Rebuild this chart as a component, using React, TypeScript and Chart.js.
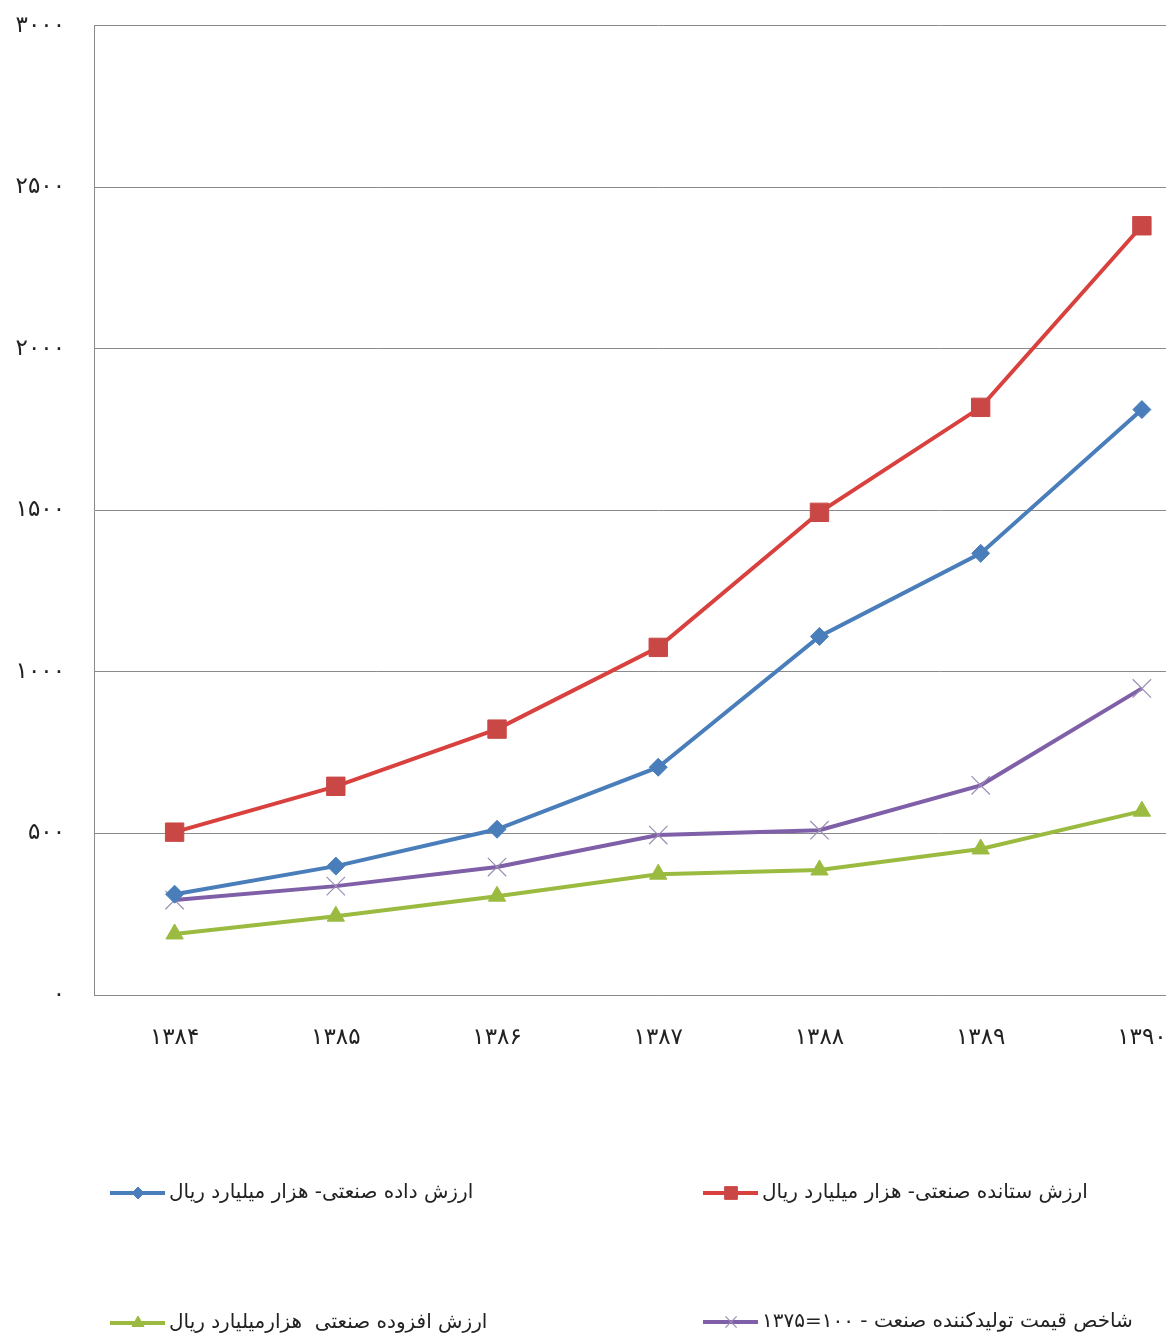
import React, { useEffect, useRef } from "react";
import { Chart, registerables } from "chart.js";
import { drawPoint } from "chart.js/helpers";

Chart.register(...registerables);

const categories = ["۱۳۸۴", "۱۳۸۵", "۱۳۸۶", "۱۳۸۷", "۱۳۸۸", "۱۳۸۹", "۱۳۹۰"];
const yTickLabels = ["۰", "۵۰۰", "۱۰۰۰", "۱۵۰۰", "۲۰۰۰", "۲۵۰۰", "۳۰۰۰"];

const inputValue = [312, 399, 513, 705, 1110, 1367, 1812];
const outputValue = [504, 646, 823, 1076, 1494, 1819, 2381];
const addedValue = [189, 244, 306, 374, 387, 452, 569];
const priceIndex = [294, 337, 396, 495, 510, 649, 949];

const labelInput = "ارزش داده صنعتی- هزار میلیارد ریال";
const labelOutput = "ارزش ستانده صنعتی- هزار میلیارد ریال";
const labelAdded = "ارزش افزوده صنعتی  هزارمیلیارد ریال";
const labelIndex = "شاخص قیمت تولیدکننده صنعت - ۱۰۰=۱۳۷۵";

const FONT = "'DejaVu Sans', sans-serif";
const SHIFT = 17;

const legendPlugin = {
  id: "customLegend",
  afterDraw(chart: any) {
    const ctx = chart.ctx;
    const slots = [
      { ds: 0, x: 110, y: 1193 + SHIFT, r: 6 },
      { ds: 1, x: 703, y: 1193 + SHIFT, r: 9 },
      { ds: 2, x: 110, y: 1323 + SHIFT, r: 7 },
      { ds: 3, x: 703, y: 1322 + SHIFT, r: 8 },
    ];
    ctx.save();
    slots.forEach((s) => {
      const d = chart.data.datasets[s.ds];
      ctx.strokeStyle = d.borderColor;
      ctx.lineWidth = 4;
      ctx.beginPath();
      ctx.moveTo(s.x, s.y);
      ctx.lineTo(s.x + 55, s.y);
      ctx.stroke();
      ctx.fillStyle = d.pointBackgroundColor;
      ctx.strokeStyle = d.pointBorderColor;
      ctx.lineWidth = d.pointBorderWidth;
      drawPoint(ctx, { pointStyle: d.pointStyle, radius: s.r, rotation: 0, borderWidth: d.pointBorderWidth }, s.x + 28, s.y);
      ctx.fillStyle = "#222";
      ctx.font = `20px ${FONT}`;
      ctx.textBaseline = "middle";
      ctx.textAlign = "left";
      (ctx as any).direction = "rtl";
      ctx.fillText(d.label, s.x + 59, s.y);
      (ctx as any).direction = "ltr";
    });
    ctx.restore();
  },
};

export default function App() {
  const ref = useRef<HTMLCanvasElement>(null);
  useEffect(() => {
    if (!ref.current) return;
    const chart = new Chart(ref.current, {
      type: "line",
      data: {
        labels: categories,
        datasets: [
          {
            label: labelInput,
            data: inputValue,
            borderColor: "#4A7EBB",
            pointBackgroundColor: "#4A7EBB",
            pointBorderColor: "#4A7EBB",
            pointBorderWidth: 1,
            pointStyle: "rectRot",
            pointRadius: 9,
            borderWidth: 4,
            tension: 0,
          },
          {
            label: labelOutput,
            data: outputValue,
            borderColor: "#D9413E",
            pointBackgroundColor: "#C94846",
            pointBorderColor: "#C94846",
            pointBorderWidth: 1,
            pointStyle: "rect",
            pointRadius: 13,
            borderWidth: 4,
            tension: 0,
          },
          {
            label: labelAdded,
            data: addedValue,
            borderColor: "#9BBB40",
            pointBackgroundColor: "#9BBB40",
            pointBorderColor: "#9BBB40",
            pointBorderWidth: 1,
            pointStyle: "triangle",
            pointRadius: 10,
            borderWidth: 4,
            tension: 0,
          },
          {
            label: labelIndex,
            data: priceIndex,
            borderColor: "#7F5FA8",
            pointBackgroundColor: "#9C8CB4",
            pointBorderColor: "#9C8CB4",
            pointBorderWidth: 1.2,
            pointStyle: "crossRot",
            pointRadius: 13,
            borderWidth: 4,
            tension: 0,
          },
        ],
      },
      options: {
        responsive: false,
        animation: false,
        layout: { autoPadding: false, padding: { left: 0, right: 17.5, top: 8, bottom: 0 } },
        plugins: { legend: { display: false }, title: { display: false }, tooltip: { enabled: false } },
        scales: {
          x: {
            offset: true,
            grid: { display: false, drawTicks: false },
            border: { display: true, color: "#8a8a8a", width: 1 },
            ticks: { color: "#222", font: { family: FONT, size: 23 }, padding: 29 },
            afterFit: (s: any) => {
              s.height = 344;
            },
          },
          y: {
            min: 0,
            max: 3000,
            grid: { color: "#8a8a8a", lineWidth: 1, drawTicks: false },
            border: { display: true, color: "#8a8a8a", width: 1 },
            ticks: {
              stepSize: 500,
              padding: 29,
              color: "#222",
              font: { family: FONT, size: 23 },
              callback: (_v: any, i: number) => yTickLabels[i],
            },
            afterFit: (s: any) => {
              s.width = 94;
            },
          },
        },
      },
      plugins: [legendPlugin],
    });
    return () => chart.destroy();
  }, []);
  return (
    <div
      style={{
        position: "fixed",
        left: 0,
        top: 0,
        width: 1166,
        height: 1339,
        overflow: "hidden",
        background: "#fff",
      }}
    >
      <canvas
        ref={ref}
        width={1240}
        height={1339 + SHIFT}
        style={{ position: "absolute", left: 0, top: -SHIFT, width: 1240, height: 1339 + SHIFT, display: "block" }}
      />
    </div>
  );
}
